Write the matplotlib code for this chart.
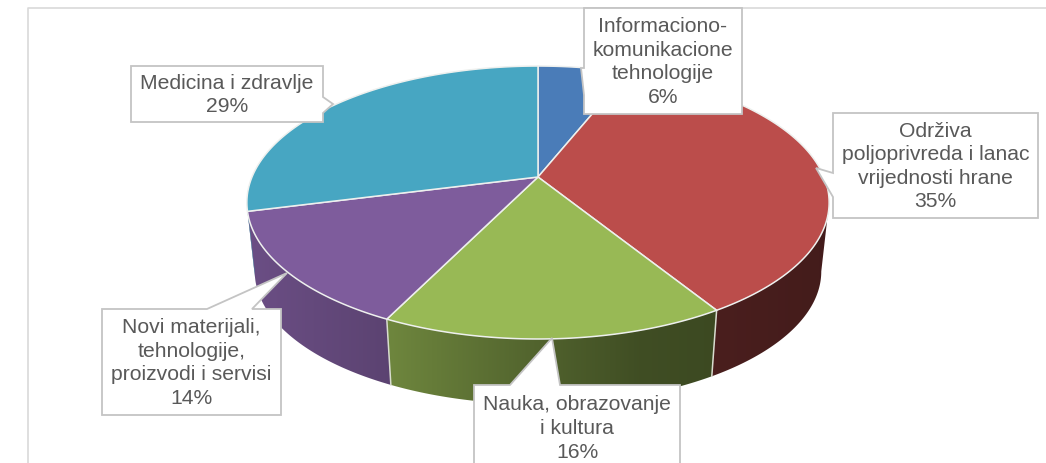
import numpy as np
import matplotlib
matplotlib.use("Agg")
import matplotlib.pyplot as plt
from matplotlib.patches import Polygon
from matplotlib.colors import to_rgb

plt.rcParams["font.family"] = ["Liberation Sans", "DejaVu Sans"]

# slices, clockwise from the top
labels = [
    "Informaciono-\nkomunikacione\ntehnologije",
    "Održiva\npoljoprivreda i lanac\nvrijednosti hrane",
    "Nauka, obrazovanje\ni kultura",
    "Novi materijali,\ntehnologije,\nproizvodi i servisi",
    "Medicina i zdravlje",
]
values = [6, 35.2, 16.05, 13.75, 29]
colors = ["#4a7cb8", "#bb4d4b", "#98b955", "#7e5c9c", "#47a6c2"]

# label boxes in pixels: left, right, top, bottom
boxes = [
    (584, 742, 8, 114),
    (833, 1038, 113, 218),
    (474, 680, 385, 470),
    (102, 281, 309, 415),
    (131, 323, 66, 122),
]
# callout tip and where it leaves the box
tips = [
    ((581, 68), "left", (68, 95)),
    ((816, 168), "left", (173, 197)),
    ((552, 338), "top", (510, 560)),
    ((287, 273), "top", (207, 252)),
    ((333, 104), "right", (97, 113)),
]

# side shading against screen x
shade_x = [250, 385, 550, 640, 830]
shade_f = [0.85, 0.73, 0.52, 0.42, 0.36]

W, H = 1046, 463
CX, CY = 538, 177
A, B, K = 286, 131.7, 0.187   # perspective of the pie top
DEPTH, SCALE = 69.6, 0.973    # lower rim


def project(theta, r=1.0, lower=False):
    x = r * np.sin(theta)
    y = r * np.cos(theta)
    d = 1 + K * y
    px = A * x / d
    py = -B * y / d
    if lower:
        return CX + SCALE * px, CY + DEPTH + SCALE * py
    return CX + px, CY + py


def callout(box, tip, side, base):
    l, r, t, b = box
    if side == "left":
        return [(l, t), (r, t), (r, b), (l, b), (l, base[1]), tip, (l, base[0])]
    if side == "right":
        return [(l, t), (r, t), (r, base[0]), tip, (r, base[1]), (r, b), (l, b)]
    return [(l, t), (base[0], t), tip, (base[1], t), (r, t), (r, b), (l, b)]


fig = plt.figure(figsize=(W / 100, H / 100), dpi=100)
ax = fig.add_axes([0, 0, 1, 1])

# chart frame, open to the right and below
ax.plot([28, 28, W], [H, 8, 8], color="#d9d9d9", lw=1.2, zorder=1)

edges = np.cumsum([0] + values) / sum(values) * 2 * np.pi

# side wall, one gradient per slice, only the part between the two silhouette points
grid_x = np.arange(W)
shade = np.interp(grid_x, shade_x, shade_f)
front_a = np.arccos(-K)
front_b = 2 * np.pi - front_a
for i in range(len(values)):
    a = max(edges[i], front_a)
    b = min(edges[i + 1], front_b)
    if a >= b:
        continue
    th = np.linspace(a, b, 120)
    x0, y0 = project(th)
    x1, y1 = project(th, lower=True)
    wall = Polygon(np.c_[np.r_[x0, x1[::-1]], np.r_[y0, y1[::-1]]],
                   transform=ax.transData, facecolor="none", edgecolor="none")
    ax.add_patch(wall)
    img = np.outer(shade, to_rgb(colors[i]))[np.newaxis, :, :]
    im = ax.imshow(img, extent=(0, W, H, 0), aspect="auto", zorder=2,
                   interpolation="bilinear")
    im.set_clip_path(wall)

# light edges between slices on the wall
for e in edges[:-1]:
    if np.cos(e) < -0.3:
        x0, y0 = project(e)
        x1, y1 = project(e, lower=True)
        ax.plot([x0, x1], [y0, y1], color="#d8dccf", lw=1.1, zorder=3)

# top face
for i, col in enumerate(colors):
    th = np.linspace(edges[i], edges[i + 1], 120)
    xs, ys = project(th)
    ax.fill(np.r_[CX, xs], np.r_[CY, ys], facecolor=col, edgecolor="#eef0ee",
            lw=1.1, joinstyle="round", zorder=4)

# labels
for name, v, box, (tip, side, base) in zip(labels, values, boxes, tips):
    ax.fill(*zip(*callout(box, tip, side, base)), facecolor="white",
            edgecolor="#c4c4c4", lw=1.3, zorder=5)
    ax.text((box[0] + box[1]) / 2, (box[2] + box[3]) / 2 + 1, f"{name}\n{v:.0f}%",
            ha="center", va="center", ma="center", fontsize=15.2,
            linespacing=1.31, color="#595959", zorder=6)

ax.set_xlim(0, W)
ax.set_ylim(H, 0)
ax.axis("off")

fig.savefig("out.png", dpi=100)
